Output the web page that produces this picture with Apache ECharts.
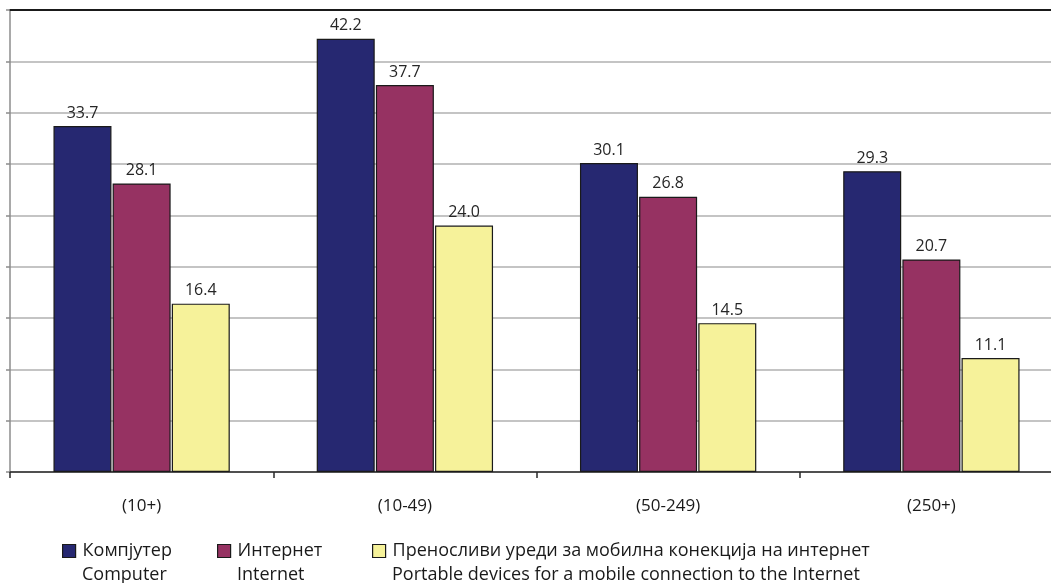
<!DOCTYPE html>
<html>
<head>
<meta charset="utf-8">
<script src="https://cdn.jsdelivr.net/npm/echarts@6/dist/echarts.min.js"></script>
<style>
html,body{margin:0;padding:0;background:#fff;overflow:hidden;width:1051px;height:583px;}
#c{width:1063px;height:583px;}
</style>
</head>
<body>
<div id="c"></div>
<script>
var categories = ['(10+)', '(10-49)', '(50-249)', '(250+)'];
var namesMk = ['Компјутер', 'Интернет', 'Преносливи уреди за мобилна конекција на интернет'];
var namesEn = ['Computer', 'Internet', 'Portable devices for a mobile connection to the Internet'];
var computer = [33.7, 42.2, 30.1, 29.3];
var internet = [28.1, 37.7, 26.8, 20.7];
var portable = [16.4, 24.0, 14.5, 11.1];
var yTicks = { min: 0, max: 45, interval: 5 };

var colors = ['#262871', '#963262', '#F6F29A'];
var FONT = 'Open Sans';
var seriesData = [computer, internet, portable];

var chart = echarts.init(document.getElementById('c'), null, { renderer: 'canvas' });

var series = seriesData.map(function (d, i) {
  return {
    name: namesMk[i],
    type: 'bar',
    xAxisIndex: 0,
    data: d,
    barWidth: 58,
    barGap: '2%',
    itemStyle: { color: colors[i], borderColor: '#1a1a1a', borderWidth: 1.2 },
    label: {
      show: true,
      position: 'top',
      distance: 5,
      color: '#262626',
      fontFamily: FONT,
      fontSize: 16,
      formatter: function (p) { return p.value.toFixed(1); }
    }
  };
});

var legendLefts = [62, 217, 372];
var legends = [];
namesMk.forEach(function (n, i) {
  legends.push({
    data: [n],
    left: legendLefts[i],
    top: 542,
    padding: 0,
    itemWidth: 13,
    itemHeight: 13,
    icon: 'rect',
    itemStyle: { borderColor: '#1a1a1a', borderWidth: 1.2 },
    textStyle: { fontFamily: FONT, fontSize: 18, color: '#1a1a1a', padding: [0, 0, 0, 2] }
  });
  legends.push({
    data: [n],
    left: legendLefts[i],
    top: 566,
    padding: 0,
    itemWidth: 13,
    itemHeight: 13,
    icon: 'none',
    textStyle: { fontFamily: FONT, fontSize: 18, color: '#1a1a1a', padding: [0, 0, 0, 2] },
    formatter: function (name) { return namesEn[namesMk.indexOf(name)]; }
  });
});

chart.setOption({
  animation: false,
  backgroundColor: '#ffffff',
  color: colors,
  grid: { left: 10, top: 10, right: 0, height: 462, containLabel: false },
  legend: legends,
  xAxis: [{
    type: 'category',
    data: categories,
    position: 'bottom',
    axisLine: { show: true, lineStyle: { color: '#2a2a2a', width: 1.5 } },
    axisTick: { show: true, length: 6, lineStyle: { color: '#2a2a2a', width: 1.5 } },
    axisLabel: { fontFamily: FONT, fontSize: 17, color: '#1a1a1a', margin: 26 },
    splitLine: { show: false }
  }, {
    type: 'category',
    data: categories,
    position: 'top',
    axisLine: { show: true, lineStyle: { color: '#1a1a1a', width: 2 } },
    axisTick: { show: false },
    axisLabel: { show: false }
  }],
  yAxis: {
    type: 'value',
    min: yTicks.min,
    max: yTicks.max,
    interval: yTicks.interval,
    axisLine: { show: true, lineStyle: { color: '#8c8c8c', width: 1.5 } },
    axisTick: { show: true, length: 4, lineStyle: { color: '#8c8c8c', width: 1.5 } },
    axisLabel: { show: false },
    splitLine: { show: true, lineStyle: { color: '#c4c4c4', width: 2 } }
  },
  series: series
});
</script>
</body>
</html>
